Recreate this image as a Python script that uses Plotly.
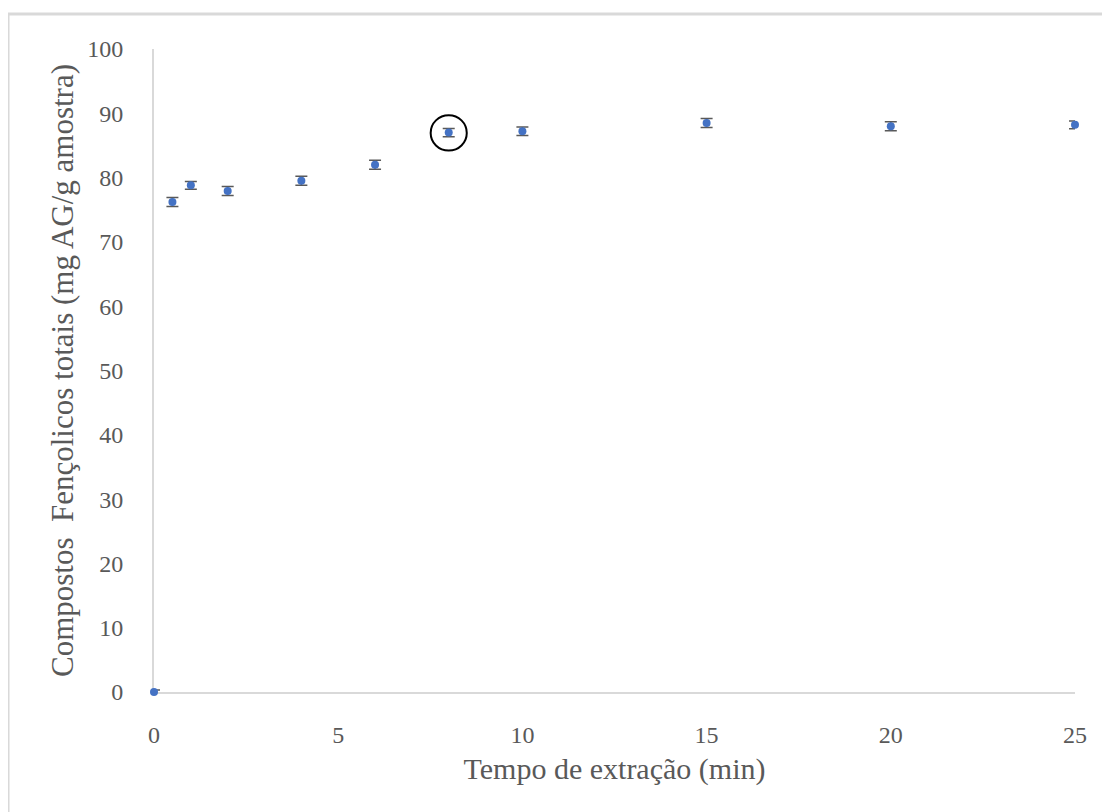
import plotly.graph_objects as go

tempo = [0, 0.5, 1, 2, 4, 6, 8, 10, 15, 20, 25]
compostos = [0, 76.2, 78.8, 77.9, 79.5, 82.0, 87.0, 87.2, 88.5, 88.0, 88.2]
erro = [0.3, 0.7, 0.6, 0.7, 0.7, 0.7, 0.65, 0.65, 0.7, 0.7, 0.6]

x_ticks = [0, 5, 10, 15, 20, 25]
y_ticks = [0, 10, 20, 30, 40, 50, 60, 70, 80, 90, 100]

serif = "Liberation Serif, Times New Roman, serif"

fig = go.Figure()
fig.add_trace(go.Scatter(
    x=tempo, y=compostos, mode="markers",
    marker=dict(color="#4472C4", size=8),
    error_y=dict(type="data", array=erro, visible=True,
                 color="#595959", thickness=1.5, width=6),
    cliponaxis=False, showlegend=False,
))

# circled point (8 min)
fig.add_shape(type="circle", xref="x", yref="y",
              x0=7.51, x1=8.49, y0=84.2, y1=89.7,
              line=dict(color="black", width=2))

# outer chart border (top and left visible)
fig.add_shape(type="line", xref="paper", yref="paper",
              x0=-0.1585, x1=1.05, y0=1.0544, y1=1.0544,
              line=dict(color="#d9d9d9", width=3))
fig.add_shape(type="line", xref="paper", yref="paper",
              x0=-0.1585, x1=-0.1585, y0=1.0544, y1=-0.2,
              line=dict(color="#d9d9d9", width=3))

fig.update_layout(
    width=1102, height=804,
    margin=dict(l=146, r=35, t=41, b=120),
    paper_bgcolor="white", plot_bgcolor="white",
    font=dict(family=serif, color="#595959"),
)
fig.update_xaxes(
    range=[0, 25], tickvals=x_ticks, ticktext=[str(v) for v in x_ticks],
    showgrid=False, zeroline=False, showline=True, linecolor="#d9d9d9", linewidth=2,
    layer="below traces",
    ticks="", ticklabelstandoff=20, tickfont=dict(size=24, family=serif, color="#595959"),
    title=dict(text="Tempo de extração (min)", font=dict(size=30, family=serif, color="#595959"), standoff=11),
)
fig.update_yaxes(
    range=[0, 100], tickvals=y_ticks, ticktext=[str(v) for v in y_ticks],
    showgrid=False, zeroline=False, showline=True, linecolor="#d9d9d9", linewidth=2,
    layer="below traces",
    ticks="", ticklabelstandoff=24, tickfont=dict(size=24, family=serif, color="#595959"),
    title=dict(text="Compostos  Fençolicos totais (mg AG/g amostra)", font=dict(size=31, family=serif, color="#595959"), standoff=4),
)

fig.write_html("out.html")
